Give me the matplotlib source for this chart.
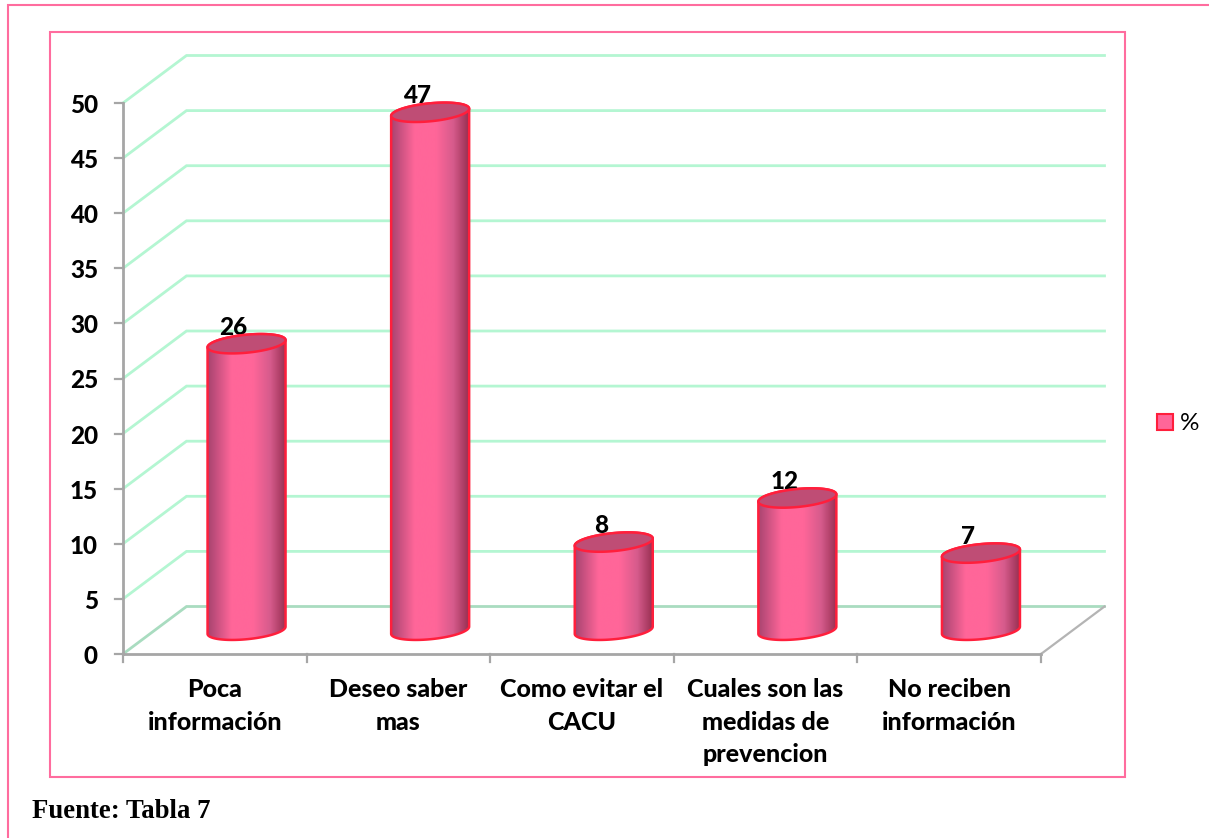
import numpy as np
import matplotlib
matplotlib.use("Agg")
import matplotlib.pyplot as plt
from matplotlib.colors import LinearSegmentedColormap
from matplotlib.patches import Polygon, Rectangle, Patch

categories = ["Poca\ninformación", "Deseo saber\nmas", "Como evitar el\nCACU",
              "Cuales son las\nmedidas de\nprevencion", "No reciben\ninformación"]
values = [26, 47, 8, 12, 7]
yticks = [0, 5, 10, 15, 20, 25, 30, 35, 40, 45, 50]
series_name = "%"
source = "Fuente: Tabla 7"

W, H = 1209, 838
fig = plt.figure(figsize=(W / 100, H / 100), dpi=100, facecolor="white")
ax = fig.add_axes([0, 0, 1, 1])
X0, CAT_W, Y0, UNIT = 123.0, 183.6, 654.0, 11.02
ax.set_xlim(-X0 / CAT_W, (W - X0) / CAT_W)
ax.set_ylim((Y0 - H) / UNIT, Y0 / UNIT)
ax.axis("off")

DX, DY = 63.5 / CAT_W, 47.5 / UNIT
n = len(categories)
PINK, GRID, AXIS, RED = "#ff6c9e", "#b4f6d2", "#a6a6a6", "#ff1f3c"
FONT = "Lato"
WEIGHT = 900

# page and chart frames (pixel layout)
def frame(x0, y0, x1, y1):
    fig.add_artist(Rectangle((x0 / W, 1 - y1 / H), (x1 - x0) / W, (y1 - y0) / H, fill=False,
                             ec=PINK, lw=1.5, transform=fig.transFigure))
frame(8, 5, 1240, 900)
frame(50, 32, 1125, 777)

# walls
for v in yticks:
    col = "#a9dcc0" if v == 0 else GRID
    ax.plot([0, DX, n + DX + 0.0], [v, v + DY, v + DY], color=col, lw=2.0, zorder=1,
            solid_joinstyle="miter")
    ax.plot([-8 / CAT_W, 0], [v, v], color=AXIS, lw=1.6, zorder=2)
ax.plot([0, 0], [0, yticks[-1]], color=AXIS, lw=2, zorder=2)
ax.plot([0, n], [0, 0], color=AXIS, lw=2, zorder=2)
ax.plot([n, n + DX], [0, DY], color="#b4b4b4", lw=1.6, zorder=2)
for i in range(n + 1):
    ax.plot([i, i], [0, -8 / UNIT], color=AXIS, lw=1.6, zorder=2)
for v in yticks:
    ax.text(-25 / CAT_W, v - 0.22, str(v), ha="right", va="center", fontsize=17.5,
            fontweight=WEIGHT, family=FONT, color="black", zorder=5)

# cylinders
cmap = LinearSegmentedColormap.from_list("cyl", [
    (0.00, "#a8446f"), (0.10, "#c44f7e"), (0.30, "#ff6699"), (0.58, "#ff6699"),
    (0.80, "#d65b8c"), (0.95, "#a83a60"), (1.00, "#96304f")])
grad = np.linspace(0, 1, 256).reshape(1, -1)
A, B, SKEW = 39 / CAT_W, 9.0 / UNIT, 3.6 / UNIT
t = np.linspace(0, 2 * np.pi, 181)

def ell(cx, cy, tt):
    return np.c_[cx + A * np.cos(tt), cy + B * np.sin(tt) + SKEW * np.cos(tt)]

for i, v in enumerate(values):
    cx = i + 0.5 + DX / 2
    base = DY / 2
    top = base + v
    lower = ell(cx, base, np.linspace(np.pi, 2 * np.pi, 91))
    upper = ell(cx, top, np.linspace(0, np.pi, 91))
    body = Polygon(np.r_[lower, upper], closed=True, fc="none", ec=RED, lw=1.8, zorder=4)
    ax.add_patch(body)
    im = ax.imshow(grad, cmap=cmap, extent=[cx - A, cx + A, base - 2, top + 2], aspect="auto", zorder=3)
    clip = Polygon(np.r_[lower, upper], closed=True, transform=ax.transData)
    im.set_clip_path(clip)
    ax.add_patch(Polygon(ell(cx, top, t), closed=True, fc="#bf4d75", ec=RED, lw=1.8, zorder=4))
    ax.text(cx - 13 / CAT_W, top + 16.5 / UNIT, str(v), ha="center", va="center", fontsize=17.5,
            fontweight=WEIGHT, family=FONT, color="black", zorder=3.5)

ax.set_xlim(-X0 / CAT_W, (W - X0) / CAT_W)
ax.set_ylim((Y0 - H) / UNIT, Y0 / UNIT)

# category labels
for i, c in enumerate(categories):
    ax.text(i + 0.5, -24 / UNIT, c, ha="center", va="top", fontsize=18, fontweight=WEIGHT,
            family=FONT, color="black", linespacing=1.5, zorder=5)

leg = ax.legend(handles=[Patch(fc="#ff6699", ec=RED, lw=1.5, label=series_name)],
                loc="center left", bbox_to_anchor=(1138 / W, 1 - 424 / H), frameon=False,
                handlelength=0.62, handleheight=0.62, handletextpad=0.3, borderpad=0.3,
                prop={"family": "Lato", "size": 17.5})

fig.text(32 / W, 1 - 811 / H, source, family="Liberation Serif", fontweight="bold",
         fontsize=19.3, va="center", ha="left", color="black")

fig.savefig("out.png", dpi=100)
